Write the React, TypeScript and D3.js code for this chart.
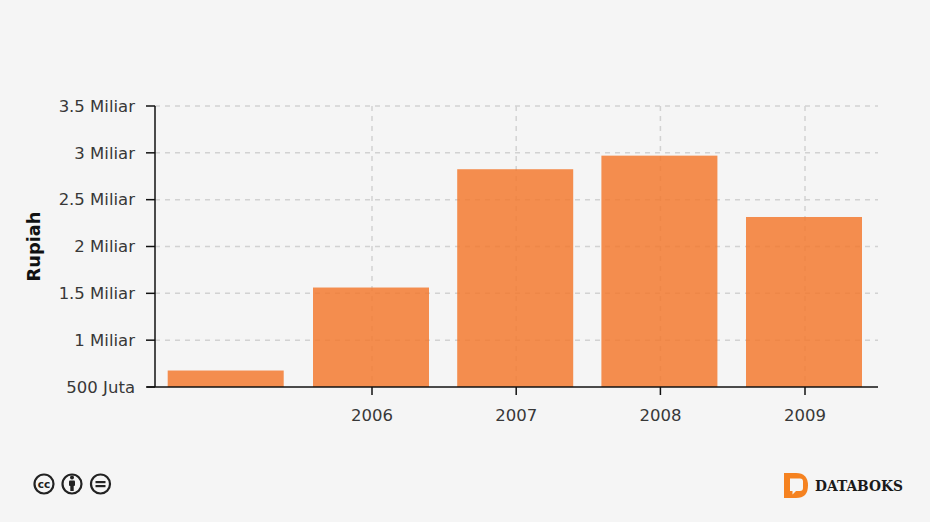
import React from "react";
import * as d3 from "d3";

const years = [2005, 2006, 2007, 2008, 2009];
const tickYears = [2006, 2007, 2008, 2009];
const values = [0.676, 1.562, 2.825, 2.97, 2.315];
const yTicks = [0.5, 1, 1.5, 2, 2.5, 3, 3.5];
const yTickLabels = ["500 Juta", "1 Miliar", "1.5 Miliar", "2 Miliar", "2.5 Miliar", "3 Miliar", "3.5 Miliar"];
const yTitle = "Rupiah";
const brand = "DATABOKS";

const W = 930, H = 522;
const left = 155, right = 878, top = 106, bottom = 387;
const date = (y: number) => new Date(Date.UTC(y, 0, 1));
const x = d3.scaleUtc().domain([date(2006), date(2009)]).range([372, 805]);
const y = d3.scaleLinear().domain([0.5, 3.5]).range([bottom, top]);
const barW = 116;
const font = "'DejaVu Sans', sans-serif";
const ink = "#383838";

export default function App() {
  const bar = (yr: number) => (yr === 2005 ? 225.7 : x(date(yr)) - 1);
  return (
    <svg width={W} height={H} viewBox={`0 0 ${W} ${H}`} style={{ position: "absolute", left: 0, top: 0, background: "#f5f5f5", display: "block" }}>
      <g stroke="#d2d2d2" strokeWidth={1.5} strokeDasharray="5 5" fill="none">
        {yTicks.slice(1).map((t) => <line key={t} x1={left} x2={right} y1={y(t)} y2={y(t)} />)}
        {tickYears.map((t) => <line key={t} x1={x(date(t))} x2={x(date(t))} y1={top} y2={bottom} />)}
      </g>
      {years.map((yr, i) => (
        <rect key={yr} x={bar(yr) - barW / 2} width={barW} y={y(values[i])} height={bottom - y(values[i])} fill="#f37a30" fillOpacity={0.85} />
      ))}
      <g stroke="#111" strokeWidth={1.5} fill="none">
        <line x1={left} x2={left} y1={top} y2={bottom} />
        <line x1={left - 8} x2={right} y1={bottom} y2={bottom} />
        {yTicks.map((t) => <line key={t} x1={left - 9} x2={left} y1={y(t)} y2={y(t)} />)}
        {tickYears.map((t) => <line key={t} x1={x(date(t))} x2={x(date(t))} y1={bottom} y2={bottom + 8} />)}
      </g>
      <g fontFamily={font} fontSize={16.5} fill={ink}>
        {yTicks.map((t, i) => (
          <text key={t} x={135} y={y(t) + 5.8} textAnchor="end">{yTickLabels[i]}</text>
        ))}
        {tickYears.map((t) => (
          <text key={t} x={x(date(t))} y={420.5} textAnchor="middle">{t}</text>
        ))}
      </g>
      <text transform="translate(40,246.5) rotate(-90)" textAnchor="middle" fontFamily={font} fontSize={17.8} fontWeight="bold" fill="#111">{yTitle}</text>

      <g fill="none" stroke="#222" strokeWidth={2.2}>
        <circle cx={44} cy={484} r={9.5} />
        <circle cx={72} cy={484} r={9.5} />
        <circle cx={100.5} cy={484} r={9.5} />
      </g>
      <text x={44} y={488} textAnchor="middle" fontFamily={font} fontSize={10.5} fontWeight="bold" fill="#222">cc</text>
      <g fill="#222">
        <circle cx={72} cy={477.5} r={2} />
        <rect x={69} y={480.5} width={6} height={5.5} rx={1} />
        <rect x={70.3} y={485} width={3.4} height={6} />
        <rect x={95.5} y={481} width={10} height={2.2} />
        <rect x={95.5} y={485} width={10} height={2.2} />
      </g>

      <path d="M784 473 H796 Q808 473 808 485.5 Q808 498 796 498 H784 Z" fill="#f58220" />
      <path d="M790 478.5 H800 Q803 478.5 803 481.5 V488 Q803 491 800 491 H796 L792.5 494.5 V491 H790 Z" fill="#f5f5f5" />
      <text x={815} y={491} fontFamily="'DejaVu Serif', serif" fontWeight="bold" fontSize={14} textLength={88} lengthAdjust="spacingAndGlyphs" fill="#1a1a1a">{brand}</text>
    </svg>
  );
}
